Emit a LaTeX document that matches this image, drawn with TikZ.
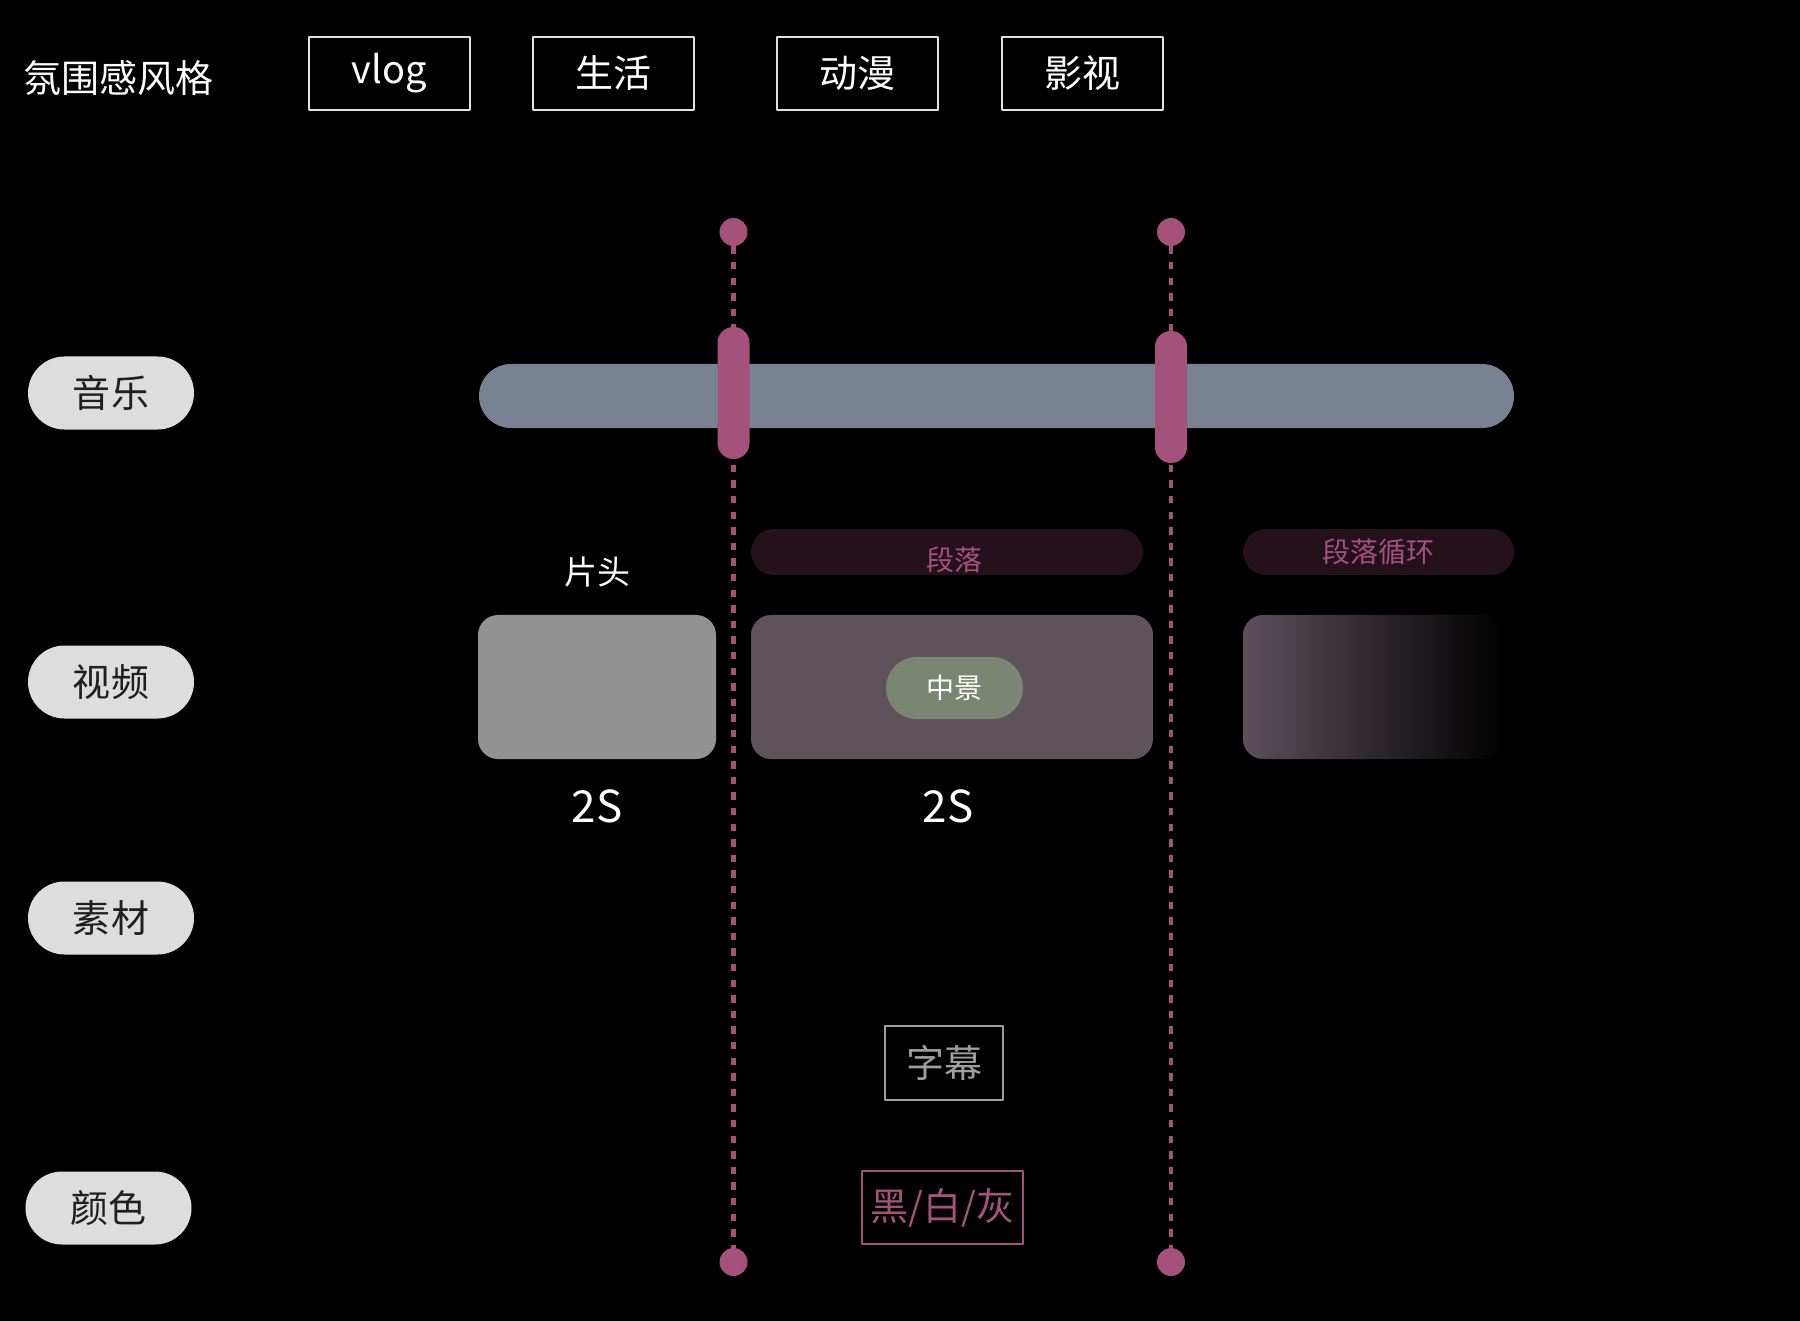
\documentclass[tikz,border=0pt]{standalone}
\usepackage{fontspec}
\setmainfont{Noto Sans CJK SC}
\usetikzlibrary{shapes.misc}

\definecolor{barcol}{RGB}{120,130,146}
\definecolor{cutcol}{RGB}{164,82,122}
\definecolor{pillcol}{RGB}{221,221,221}
\definecolor{introcol}{RGB}{146,146,146}
\definecolor{segcol}{RGB}{94,82,91}
\definecolor{loopcol}{RGB}{92,80,90}
\definecolor{tagcol}{RGB}{36,17,27}
\definecolor{midcol}{RGB}{122,134,114}
\definecolor{subcol}{RGB}{158,158,158}

\begin{document}
\begin{tikzpicture}[x=0.5bp,y=-0.5bp,line join=bevel,
  genre/.style={draw=white!88!black,line width=1bp,text=white,minimum width=80.5bp,minimum height=36.5bp,inner sep=0pt,font=\fontsize{19bp}{22bp}\selectfont},
  row/.style={rounded rectangle,fill=pillcol,text=black!88,minimum width=83bp,minimum height=36.5bp,inner sep=0pt,font=\fontsize{19bp}{22bp}\selectfont},
  dot/.style={circle,fill=cutcol,minimum size=14bp,inner sep=0pt},
  grip/.style={rectangle,rounded corners=7.9bp,fill=cutcol,minimum width=16bp,minimum height=66bp,inner sep=0pt},
  cutline/.style={draw=cutcol,line width=2.4bp,dash pattern=on 3.7bp off 4.1bp},
  footage/.style={rectangle,rounded corners=10bp,minimum height=72bp,inner sep=0pt},
  part/.style={rounded rectangle,fill=tagcol,text=cutcol,minimum height=23bp,inner sep=0pt,font=\fontsize{14bp}{16bp}\selectfont},
  sec/.style={text=white,font=\fontsize{22bp}{25bp}\selectfont},
]
  % background
  \fill[black] (0,0) rectangle (1800,1321);
  %%
  % Node: title and genres
  \node[anchor=west,text=white,inner sep=0pt,font=\fontsize{19bp}{22bp}\selectfont] (title) at (23,78) {氛围感风格};
  \node[genre] (vlog) at (389.5,73.5) {vlog};
  \node[genre] (life) at (613,73.5) {生活};
  \node[genre] (anime) at (857.5,73.5) {动漫};
  \node[genre] (film) at (1082.5,73.5) {影视};
  % Node: rows
  \node[row] (music) at (111,393) {音乐};
  \node[row] (video) at (111,682) {视频};
  \node[row] (stock) at (111,918) {素材};
  \node[row] (colour) at (108.5,1208) {颜色};
  % Node: music bar
  \node[rounded rectangle,fill=barcol,minimum width=517.5bp,minimum height=32bp,inner sep=0pt] (track) at (996.5,396) {};
  % Node: cut points
  \node[dot] (cutAtop) at (733.5,232) {};
  \node[dot] (cutAbot) at (733.5,1262) {};
  \node[dot] (cutBtop) at (1171,232) {};
  \node[dot] (cutBbot) at (1171,1262) {};
  % Edge: cutAtop -> cutAbot
  \draw[cutline] (cutAtop) -- (cutAbot);
  % Edge: cutBtop -> cutBbot
  \draw[cutline] (cutBtop) -- (cutBbot);
  \node[grip] (gripA) at (733.5,393) {};
  \node[grip] (gripB) at (1171,397) {};
  % Node: section tags
  \node[text=white,font=\fontsize{16.5bp}{19bp}\selectfont] (intro) at (597,572) {片头};
  \node[part,minimum width=196bp] (para) at (947,552) {\hspace*{7bp}\raisebox{-3.5bp}[\height][0pt]{段落}};
  \node[part,minimum width=135.5bp] (loop) at (1378.5,552) {段落循环};
  % Node: clips
  \node[footage,fill=introcol,minimum width=119bp] (clipA) at (597,687) {};
  \node[footage,fill=segcol,minimum width=201bp] (clipB) at (952,687) {};
  \node[footage,left color=loopcol,middle color=loopcol!72!black,right color=black,minimum width=130.5bp] (clipC) at (1373.5,687) {};
  \node[rounded rectangle,fill=midcol,text=white,minimum width=68.5bp,minimum height=31bp,inner sep=0pt,font=\fontsize{14bp}{16bp}\selectfont] (mid) at (954.5,688) {中景};
  \node[sec] (durA) at (597,806) {2S};
  \node[sec] (durB) at (948,806) {2S};
  % Node: captions and colours
  \node[draw=subcol,line width=1bp,text=subcol,minimum width=59bp,minimum height=37bp,inner sep=0pt,font=\fontsize{19bp}{22bp}\selectfont] (caption) at (944,1063) {字幕};
  \node[draw=cutcol,line width=1bp,text=cutcol,minimum width=80.5bp,minimum height=36.5bp,inner sep=0pt,font=\fontsize{19bp}{22bp}\selectfont] (bwg) at (942.5,1207.5) {黑/白/灰};
  %
\end{tikzpicture}
\end{document}
